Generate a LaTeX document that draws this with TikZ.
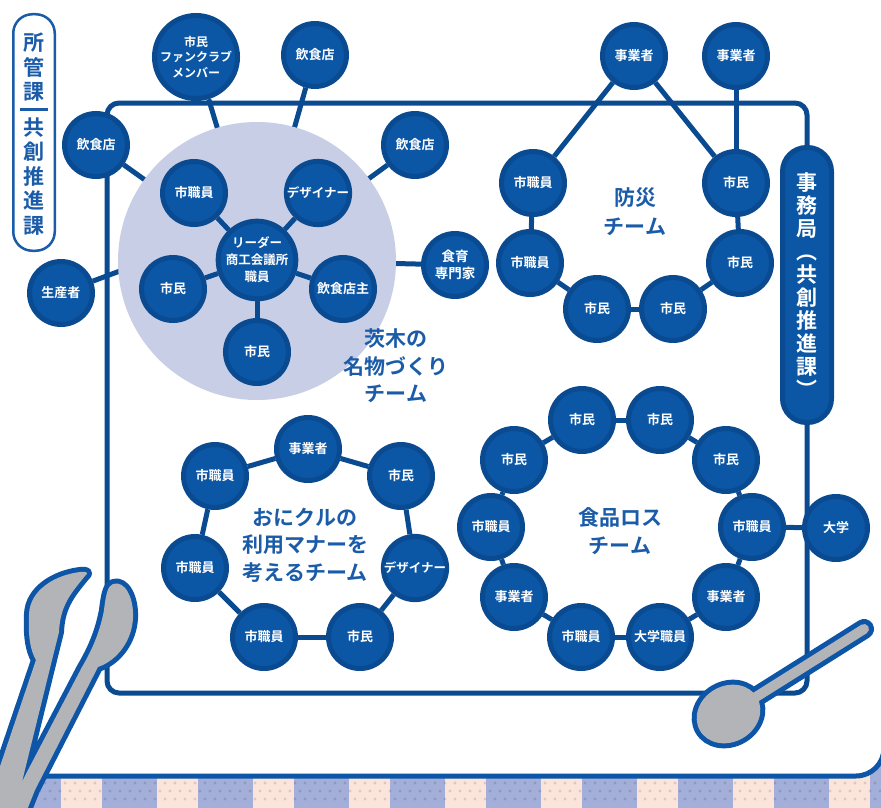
\documentclass[tikz,border=0pt]{standalone}
\usepackage{fontspec}
\setmainfont{Noto Sans CJK JP}[BoldFont={Noto Sans CJK JP Bold}]
\usetikzlibrary{positioning}

\definecolor{mork}{HTML}{0A4A90}
\definecolor{bla}{HTML}{0B57A6}
\definecolor{lys}{HTML}{C8CEE6}
\definecolor{tekst}{HTML}{1B5CA9}
\definecolor{kant}{HTML}{0D55A6}
\definecolor{gra}{HTML}{B3B4B8}
\definecolor{rute}{HTML}{A3AED9}
\definecolor{fersken}{HTML}{FBE4D9}

\tikzset{
	%Define style for the member circles
	person/.style={
		circle,
		fill=bla,
		draw=mork, line width=5pt,
		minimum size=63pt,
		inner sep=0pt,
		text=white,
		font=\bfseries\fontsize{13}{16}\selectfont,
		align=center},
	%Define style for the team names
	lagnavn/.style={
		text=tekst,
		font=\bfseries\fontsize{21}{27.5}\selectfont,
		align=center},
	% Define connector style
	pil/.style={
		draw=mork,
		line width=5pt},
	% Define style for spoon and tongs
	redskap/.style={
		fill=gra,
		preaction={draw=kant, line width=10pt, line join=round}}
}

\begin{document}
\begin{tikzpicture}[x=1pt, y=-1pt]

	\pgfdeclarelayer{bunn}  % table cloth and card
	\pgfdeclarelayer{bg}    % declare background layer
	\pgfsetlayers{bunn,bg,main}  % set the order of the layers

	\useasboundingbox (0,0) rectangle (881,808);

	\begin{pgfonlayer}{bunn}
		% checkered table cloth
		\fill[fersken] (0,750) rectangle (881,808);
		\foreach \x in {6,102,...,870}
			\fill[rute] (\x,750) rectangle +(55,60);
		\foreach \x in {0,10,...,880} {
			\fill[black, opacity=0.12] (\x+5,783) circle (1.6pt);
			\fill[black, opacity=0.12] (\x,791) circle (1.6pt);
			\fill[black, opacity=0.12] (\x+5,799) circle (1.6pt);
		}

		% white card
		\fill[white] (-10,-10) -- (884,-10) [rounded corners=28] -- (884,776) -- (-10,776) -- cycle;
		\draw[kant, line width=5pt] (884,-10) [rounded corners=28] -- (884,776) -- (-10,776);
	\end{pgfonlayer}

	% side labels
	\node[draw=tekst, line width=2.5pt, fill=white, rounded corners=19pt,
		minimum width=41.5pt, minimum height=236.5pt] (kontor) at (34,132.5) {};
	\node[lagnavn, font=\bfseries\fontsize{21}{24.5}\selectfont] (sk1) at (34,67.5) {所\\管\\課};
	\node[lagnavn, font=\bfseries\fontsize{21}{24.5}\selectfont] (sk2) at (34,176.5) {共\\創\\推\\進\\課};
	\draw[tekst, line width=3pt] ([shift={(-14,-23)}]kontor.center) -- ([shift={(14,-23)}]kontor.center);

	\node[fill=bla, draw=mork, line width=5pt, rounded corners=24pt,
		minimum width=49pt, minimum height=275pt, text=white,
		font=\bfseries\fontsize{21}{23}\selectfont, align=center] (sekr) at (807,285)
		{事\\務\\局\\︵\\共\\創\\推\\進\\課\\︶};

	% Meibutsu team
	\node[person, font=\bfseries\fontsize{12.5}{17}\selectfont] (leder) at (257,260) {リーダー\\商工会議所\\職員};
	\node[person] (m1) at (194,193) {市職員};
	\node[person, font=\bfseries\fontsize{12.5}{16}\selectfont] (m2) at (318,193) {デザイナー};
	\node[person] (m3) at (173,289) {市民};
	\node[person] (m4) at (343,289) {飲食店主};
	\node[person] (m5) at (257,352) {市民};
	\node[person, font=\bfseries\fontsize{12}{15.5}\selectfont] (fan) at (196,57) {市民\\ファンクラブ\\メンバー};
	\node[person] (kafe1) at (315,55) {飲食店};
	\node[person] (kafe2) at (96,145) {飲食店};
	\node[person] (kafe3) at (415,145) {飲食店};
	\node[person] (prod) at (61,293) {生産者};
	\node[person, font=\bfseries\fontsize{13.5}{16.7}\selectfont] (ekspert) at (455,265) {食育\\専門家};
	\node[lagnavn] (lag1) at (396,366) {茨木の\\名物づくり\\チーム};

	% Bousai team
	\node[person] (b1) at (634,56) {事業者};
	\node[person, right=34pt of b1] (b2) {事業者};
	\node[person] (b3) at (533,183) {市職員};
	\node[person] (b4) at (736,183) {市民};
	\node[person] (b5) at (530,263) {市職員};
	\node[person] (b6) at (740,263) {市民};
	\node[person] (b7) at (597,309) {市民};
	\node[person, right=8pt of b7] (b8) {市民};
	\node[lagnavn, font=\bfseries\fontsize{21}{29}\selectfont] (lag2) at (635,212) {防災\\チーム};

	% Onikuru team
	\node[person] (o1) at (308,449) {事業者};
	\node[person] (o2) at (401,476) {市民};
	\node[person, font=\bfseries\fontsize{12.5}{16}\selectfont] (o3) at (415,568) {デザイナー};
	\node[person] (o4) at (360,637) {市民};
	\node[person] (o5) at (264,637) {市職員};
	\node[person] (o6) at (195,568) {市職員};
	\node[person] (o7) at (215,476) {市職員};
	\node[lagnavn] (lag3) at (305,545) {おにクルの\\利用マナーを\\考えるチーム};

	% Shokuhin loss team
	\node[person] (s1) at (582,420) {市民};
	\node[person, right=10pt of s1] (s2) {市民};
	\node[person] (s3) at (726,460) {市民};
	\node[person] (s4) at (752,527) {市職員};
	\node[person] (s5) at (726,597) {事業者};
	\node[person] (s6) at (660,637) {大学職員};
	\node[person] (s7) at (581,637) {市職員};
	\node[person] (s8) at (514,597) {事業者};
	\node[person] (s9) at (491,527) {市職員};
	\node[person] (s10) at (514,460) {市民};
	\node[person] (uni) at (836,528) {大学};
	\node[lagnavn] (lag4) at (620,531) {食品ロス\\チーム};

	\begin{pgfonlayer}{bg}    % select the background layer
		\coordinate (hj1) at (807,103);
		\coordinate (hj2) at (107,103);
		\coordinate (hj3) at (107,693);
		\coordinate (hj4) at (807,693);
		\draw[pil, rounded corners=12] (sekr.north) -- (hj1) -- (hj2) -- (hj3) -- (hj4) -- (sekr.south);

		\foreach \n in {fan,kafe1,kafe2,kafe3,ekspert}
			\draw[pil] (\n) -- (leder);
		\draw[pil] (prod) -- (leder.north west);
		\node[circle, fill=lys, minimum size=278pt] (stor) at (257,261) {};
		\foreach \n in {m1,m2,m3,m4,m5}
			\draw[pil] (\n) -- (leder);

		\foreach \a/\b in {b1/b3,b1/b4,b2/b4,b3/b5,b5/b7,b7/b8,b8/b6,b6/b4}
			\draw[pil] (\a) -- (\b);
		\foreach \a/\b in {o1/o2,o2/o3,o3/o4,o4/o5,o5/o6,o6/o7,o7/o1}
			\draw[pil] (\a) -- (\b);
		\foreach \a/\b in {s1/s2,s2/s3,s3/s4,s4/s5,s5/s6,s6/s7,s7/s8,s8/s9,s9/s10,s10/s1,s4/uni}
			\draw[pil] (\a) -- (\b);
	\end{pgfonlayer}

	% tongs
	\path[redskap]
		(85,576) .. controls (72,592) and (60,605) .. (59,632) -- (54,652) -- (20,790) -- (12,815)
		-- (-8,815) -- (-8,790) -- (36,660) .. controls (30,650) and (28,635) .. (29,614)
		.. controls (30,590) and (55,575) .. (80,572) .. controls (87,571) and (89,573) .. (85,576) -- cycle
		(113,584) .. controls (125,580) and (134,598) .. (133,618) .. controls (132,640) and (118,660) .. (98,667)
		-- (35,790) -- (25,815) -- (5,815) -- (28,770) -- (82,667)
		.. controls (92,650) and (100,632) .. (104,610) .. controls (106,593) and (108,586) .. (113,584) -- cycle;

	% spoon
	\coordinate (skaft) at (864,629);
	\coordinate (hals) at (740,707);
	\draw[kant, line width=20pt, line cap=round] (skaft) -- (hals);
	\filldraw[kant, line width=10pt, rotate around={30:(728.5,714)}] (728.5,714) ellipse (33pt and 28pt);
	\draw[gra, line width=10pt, line cap=round] (skaft) -- (hals);
	\fill[gra, rotate around={30:(728.5,714)}] (728.5,714) ellipse (33pt and 28pt);

\end{tikzpicture}
\end{document}
